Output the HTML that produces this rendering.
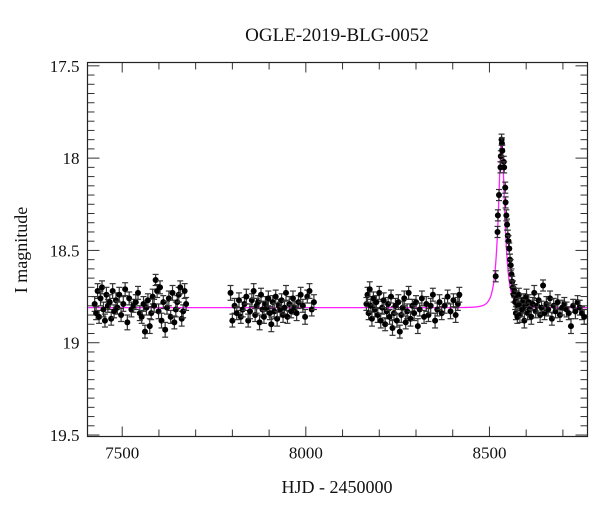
<!DOCTYPE html>
<html><head><meta charset="utf-8"><style>
html,body{margin:0;padding:0;background:#fff}
svg{display:block}
.tl{font-family:"Liberation Serif",serif;font-size:17px;fill:#111}
.ser{font-family:"Liberation Serif",serif;fill:#111}
</style></head><body>
<svg id="chart" width="600" height="512" viewBox="0 0 600 512">
<text class="ser" x="337" y="41" font-size="19" text-anchor="middle">OGLE-2019-BLG-0052</text>
<text class="ser" x="337" y="493" font-size="18" text-anchor="middle">HJD - 2450000</text>
<text class="ser" x="27" y="250" font-size="18" text-anchor="middle" transform="rotate(-90 27 250)">I magnitude</text>
<g id="ticks"></g>
<g id="model"></g>
<g id="points"></g>
<rect x="87.5" y="62.5" width="500" height="374" fill="none" stroke="#222" stroke-width="1.2"/>
</svg>
<script>
const times = [7425,7429,7433,7437,7441,7445,7449,7453,7457,7461,7466,7470,7474,7478,7483,7487,7492,7497,7503,7508,7514,7519,7525,7531,7537,7543,7548,7553,7558,7562,7566,7570,7575,7579,7583,7587,7591,7595,7599,7603,7607,7612,7617,7622,7627,7632,7637,7642,7646,7650,7654,7658,7662,7666,7670,7674,
7795,7800,7806,7812,7818,7823,7828,7833,7838,7843,7848,7853,7858,7862,7866,7870,7874,7878,7882,7886,7890,7894,7898,7902,7906,7910,7914,7918,7922,7926,7930,7934,7938,7942,7946,7950,7955,7960,7965,7970,7975,7980,7986,7992,7998,8004,8010,8016,8022,
8165,8168,8171,8174,8177,8180,8184,8188,8192,8196,8200,8204,8208,8212,8216,8220,8224,8228,8232,8236,8240,8244,8248,8252,8256,8260,8264,8268,8272,8276,8280,8285,8290,8295,8300,8305,8310,8316,8322,8328,8334,8340,8346,8352,8358,8364,8370,8378,8386,8394,8402,8408,8414,8418,
8517,8522,8523,8526,8530,8531,8533,8534,8535,8539,8540,8543,8544,8546,8548,8550,8552,8554,8556,8558,8560,8562,8564,8566,8568,8570,8572,8574,8576,8578,8580,8583,8586,8589,8592,8595,8598,8601,8604,8607,8610,8614,8618,8622,8626,8630,8634,8638,8642,8646,8650,8655,8660,8665,8670,8675,8680,8686,8692,8698,8704,8710,8716,8722,8728,8734,8740,8746,8752,8758];
const mags = [18.79,18.84,18.72,18.86,18.76,18.70,18.82,18.88,18.74,18.80,18.78,18.87,18.72,18.83,18.77,18.81,18.74,18.85,18.79,18.71,18.89,18.76,18.82,18.80,18.78,18.73,18.84,18.86,18.79,18.94,18.81,18.77,18.91,18.84,18.75,18.80,18.66,18.72,18.83,18.70,18.88,18.78,18.93,18.81,18.76,18.86,18.73,18.89,18.82,18.78,18.74,18.70,18.87,18.83,18.72,18.79,
18.73,18.88,18.80,18.84,18.77,18.86,18.82,18.79,18.75,18.88,18.83,18.77,18.72,18.85,18.80,18.78,18.89,18.74,18.82,18.86,18.79,18.81,18.76,18.84,18.90,18.78,18.83,18.75,18.87,18.80,18.82,18.77,18.85,18.81,18.73,18.86,18.79,18.83,18.76,18.81,18.84,18.78,18.74,18.80,18.86,18.75,18.72,18.82,18.78,
18.79,18.74,18.84,18.71,18.80,18.87,18.76,18.82,18.78,18.85,18.73,18.88,18.81,18.77,18.90,18.83,18.79,18.86,18.75,18.92,18.84,18.80,18.88,18.78,18.94,18.85,18.81,18.76,18.89,18.83,18.73,18.87,18.80,18.84,18.78,18.91,18.82,18.76,18.86,18.79,18.85,18.80,18.74,18.88,18.82,18.78,18.84,18.80,18.75,18.83,18.77,18.85,18.79,18.74,
18.64,18.40,18.31,18.20,18.05,17.99,17.90,17.92,17.96,18.02,18.05,18.16,18.24,18.31,18.36,18.42,18.45,18.49,18.55,18.58,18.63,18.67,18.70,18.74,18.72,18.78,18.84,18.76,18.86,18.80,18.74,18.85,18.79,18.82,18.77,18.88,18.80,18.75,18.84,18.78,18.82,18.86,18.79,18.73,18.83,18.80,18.77,18.85,18.81,18.69,18.84,18.79,18.82,18.76,18.87,18.80,18.83,18.78,18.85,18.81,18.79,18.82,18.84,18.91,18.80,18.83,18.78,18.81,18.84,18.86];
const errs = [0.04,0.035,0.03];
const modelParams = {t0:8533, tE:15, u0:0.46, base:18.81};
const xTicks = [7500,8000,8500];
const yTicks = [17.5,18,18.5,19,19.5];

const X0=87.5, X1=587.5, Y0=62.5, Y1=436.5;
const xMin=7405.5, xMax=8767, yMin=17.482, yMax=19.508;
const sx = t => X0 + (t - xMin) / (xMax - xMin) * (X1 - X0);
const sy = m => Y0 + (m - yMin) / (yMax - yMin) * (Y1 - Y0);
const NS='http://www.w3.org/2000/svg';
function mk(tag, attrs, parent){const e=document.createElementNS(NS,tag);for(const k in attrs)e.setAttribute(k,attrs[k]);parent.appendChild(e);return e;}

const tg=document.getElementById('ticks');
for(let t=7500;t<=8700;t+=100){
  const x=sx(t), major=(t%500===0);
  const L=major?10:7;
  const a=mk('line',{x1:x,x2:x,y1:Y1,y2:Y1-L,stroke:'#333','stroke-width':1},tg);
  
  
  const b=mk('line',{x1:x,x2:x,y1:Y0,y2:Y0+L,stroke:'#333','stroke-width':1},tg);
  
  
}
xTicks.forEach(t=>{
  const tx=mk('text',{x:sx(t),y:Y1+22,'text-anchor':'middle',class:'tl'},tg);
  tx.textContent=String(t);
  
  
});
for(let i=0;i<=40;i++){
  const m=17.5+i*0.05; const y=sy(m);
  const major=(i%10===0);
  const L=major?12:7;
  const a=mk('line',{x1:X0,x2:X0+L,y1:y,y2:y,stroke:'#333','stroke-width':1},tg);
  
  
  const b=mk('line',{x1:X1,x2:X1-L,y1:y,y2:y,stroke:'#333','stroke-width':1},tg);
  
  
}
yTicks.forEach(m=>{
  const tx=mk('text',{x:X0-8,y:sy(m)+6,'text-anchor':'end',class:'tl'},tg);
  tx.textContent=String(m);
  
  
});

const mg=document.getElementById('model');
let d='';
for(let t=xMin+2;t<=xMax-1;t+=0.5){
  const tau=(t-modelParams.t0)/modelParams.tE;
  const u=Math.sqrt(tau*tau+modelParams.u0*modelParams.u0);
  const A=(u*u+2)/(u*Math.sqrt(u*u+4));
  const m=modelParams.base-2.5*Math.log10(A);
  d+=(d?'L':'M')+sx(t).toFixed(2)+','+sy(m).toFixed(2);
}
const mp=mk('path',{d:d,fill:'none',stroke:'#ff20ff','stroke-width':1.3},mg);



const pg=document.getElementById('points');
times.forEach((t,i)=>{
  const m=mags[i]; const e=(m<18.7)?errs[2]:(i%2?errs[1]:errs[0]);
  const x=sx(t), y=sy(m), ya=sy(m-e), yb=sy(m+e);
  const g=mk('g',{},pg);
  
  
  mk('line',{x1:x,x2:x,y1:ya,y2:yb,stroke:'#333','stroke-width':1.2},g);
  mk('line',{x1:x-3,x2:x+3,y1:ya,y2:ya,stroke:'#333','stroke-width':1.2},g);
  mk('line',{x1:x-3,x2:x+3,y1:yb,y2:yb,stroke:'#333','stroke-width':1.2},g);
  mk('circle',{cx:x,cy:y,r:3,fill:'#000'},g);
});
</script>
</body></html>
